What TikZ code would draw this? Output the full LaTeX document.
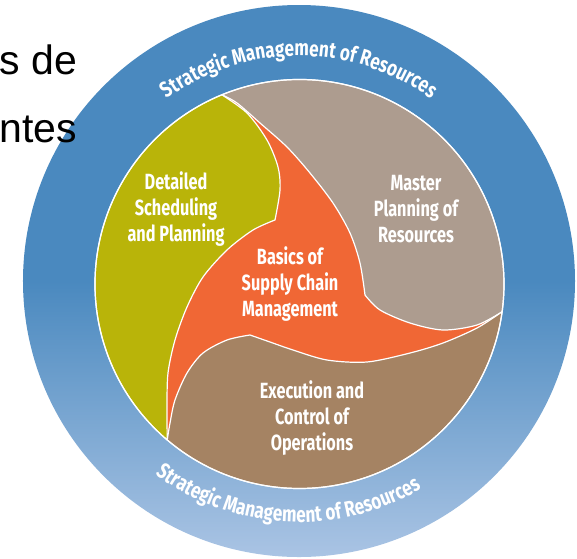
\documentclass[tikz,border=0pt]{standalone}
\usepackage{fontspec}
\setmainfont{Liberation Sans}
\newfontfamily\segfont{Fira Sans}[FakeStretch=0.74]
\newfontfamily\ringfont{Fira Sans}[FakeStretch=0.78]
\usetikzlibrary{decorations.text}

\definecolor{ringtop}{HTML}{4A89BF}
\definecolor{ringlow}{HTML}{AAC4E4}
\definecolor{planolive}{HTML}{B9B409}
\definecolor{mastergrey}{HTML}{AD9C8F}
\definecolor{execbrown}{HTML}{A58363}
\definecolor{basicorange}{HTML}{F06735}

\tikzset{
  segment/.style={draw=white, line width=1.2pt, line join=round},
  seglabel/.style={text=white, align=center, font=\segfont\bfseries\fontsize{22}{26}\selectfont},
  ringtext/.style={decorate, decoration={text along path, text align=center, text color=white,
    text={|\ringfont\bfseries\fontsize{22}{22}\selectfont|Strategic Management of Resources}}},
}

\begin{document}
\begin{tikzpicture}[x=1pt, y=1pt]
  \useasboundingbox (-299.5,-274) rectangle (277.5,284);

  \shade[top color=ringtop, bottom color=ringlow, middle color=ringtop] (-0.5,3) circle[radius=276pt];
  \fill[basicorange] (0,0) circle[radius=204.5pt];

  \coordinate (A) at (112.3:204.5pt);
  \coordinate (B) at (-7.8:204.5pt);
  \coordinate (C) at (229.7:204.5pt);
  \coordinate (ko) at (-24.5,64);
  \coordinate (kg) at (65.5,-11);
  \coordinate (kb) at (-49.5,-51);

  \filldraw[segment, fill=planolive] (A) arc[start angle=112.3, end angle=229.7, radius=204.5pt]
    -- plot[smooth] coordinates {(C) (-132.5,-123) (-131.5,-89) (-124.5,-56) (-112.5,-23) (-96.5,7) (-72.5,34) (-46.5,54) (ko)}
    -- plot[smooth] coordinates {(ko) (-19.5,94) (-21.5,117) (-32.5,144) (-52.5,171) (A)}
    -- cycle;
  \filldraw[segment, fill=mastergrey] (A) arc[start angle=112.3, end angle=-7.8, radius=204.5pt]
    -- plot[smooth] coordinates {(B) (177.5,-41) (143.5,-46) (110.5,-39) (80.5,-26) (kg)}
    -- plot[smooth] coordinates {(kg) (60.5,21) (50.5,51) (33.5,81) (10.5,111) (-12.5,137) (-39.5,161) (-62.5,181) (A)}
    -- cycle;
  \filldraw[segment, fill=execbrown] (C) arc[start angle=229.7, end angle=352.2, radius=204.5pt]
    -- plot[smooth] coordinates {(B) (177.5,-44) (143.5,-59) (110.5,-69) (67.5,-78) (27.5,-76) (-6.5,-66) (-29.5,-58) (kb)}
    -- plot[smooth] coordinates {(kb) (-72.5,-56) (-96.5,-69) (-112.5,-89) (-124.5,-116) (-129.5,-139) (C)}
    -- cycle;
  \draw[white, line width=1.2pt] (0,0) circle[radius=204.5pt];

  \node[seglabel] (detailed) at (-123.5,75) {Detailed\\Scheduling\\and Planning};
  \node[seglabel] (master) at (116.5,75) {Master\\Planning of\\Resources};
  \node[seglabel] (basics) at (-9.5,0) {Basics of\\Supply Chain\\Management};
  \node[seglabel] (execution) at (12.5,-134) {Execution and\\Control of\\Operations};

  \path[ringtext] (-0.5,3) ++(160:225pt) arc[start angle=160, end angle=20, radius=225pt];
  \path[ringtext] (-0.5,3) ++(197:241pt) arc[start angle=197, end angle=337, radius=241pt];

  \node[anchor=base east, inner sep=0pt, font=\fontsize{41}{41}\selectfont] (slide1) at (-222,210) {s de};
  \node[anchor=base east, inner sep=0pt, font=\fontsize{41}{41}\selectfont] (slide2) at (-222,142) {ntes};
\end{tikzpicture}
\end{document}
